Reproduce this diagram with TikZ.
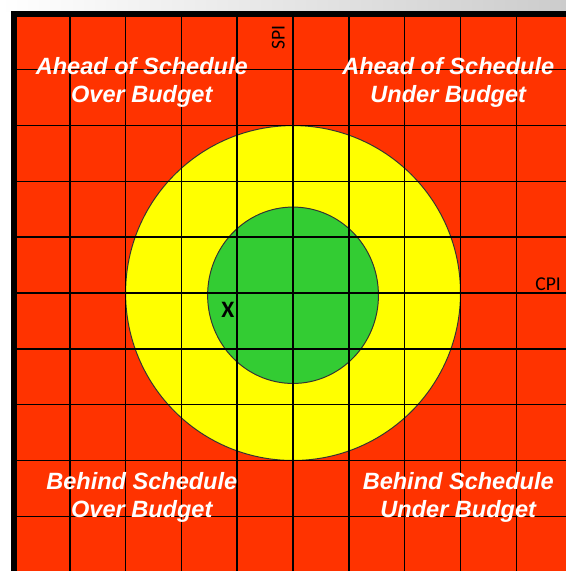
\documentclass[tikz,border=0pt]{standalone}
\usepackage{fontspec}
\setmainfont{Liberation Sans}
\newfontfamily\calibri{Carlito}
\definecolor{zonered}{RGB}{255,51,0}
\definecolor{zoneyellow}{RGB}{255,255,0}
\definecolor{zonegreen}{RGB}{51,204,51}
\tikzset{
  quadlabel/.style={text=white, font=\fontsize{12}{14.3}\selectfont\bfseries\itshape, align=center},
  axislabel/.style={font=\calibri\fontsize{10}{12}\selectfont, inner sep=0pt}
}
\begin{document}
\begin{tikzpicture}
    \useasboundingbox (-5.25, -4.98) rectangle (4.89, 5.25);
    \clip (-5.25, -4.98) rectangle (4.89, 5.25);
    \shade[left color = white, right color = black!20] (-5.25, 5.05) rectangle (4.89, 5.25);
    \fill[zonered] (-5, -5) rectangle (5, 5);
    \filldraw[fill = zoneyellow, draw = black!80, line width = 0.5pt] (0, 0) circle (3);
    \filldraw[fill = zonegreen, draw = black!80, line width = 0.5pt] (0, -0.04) ellipse (1.53 and 1.58);
    \foreach \x in {-4,...,4}
       {\draw[line width = 0.75pt] (\x, -5) -- (\x, 5);}
    \foreach \y in {-4,...,4}
       {\draw[line width = 0.75pt] (-5, \y) -- (5, \y);}
    \draw[line width = 1.2pt] (0, -5) -- (0, 5);
    \draw[line width = 1.2pt] (-5, 0) -- (5, 0);
    \draw[line width = 3pt] (-5, -5.2) -- (-5, 5) -- (5.2, 5);
    \node[axislabel, rotate = 90, anchor = base] (spi) at (-0.15, 4.58) {SPI};
    \node[axislabel, anchor = base] (cpi) at (4.57, 0.05) {CPI};
    \node[font = \calibri\fontsize{12}{14}\selectfont\bfseries] (x) at (-1.17, -0.31) {X};
    \node[quadlabel] (aheadover) at (-2.71, 3.77) {Ahead of Schedule\\Over Budget};
    \node[quadlabel] (aheadunder) at (2.78, 3.77) {Ahead of Schedule\\Under Budget};
    \node[quadlabel] (behindover) at (-2.71, -3.66) {Behind Schedule\\Over Budget};
    \node[quadlabel] (behindunder) at (2.96, -3.66) {Behind Schedule\\Under Budget};
\end{tikzpicture}
\end{document}
